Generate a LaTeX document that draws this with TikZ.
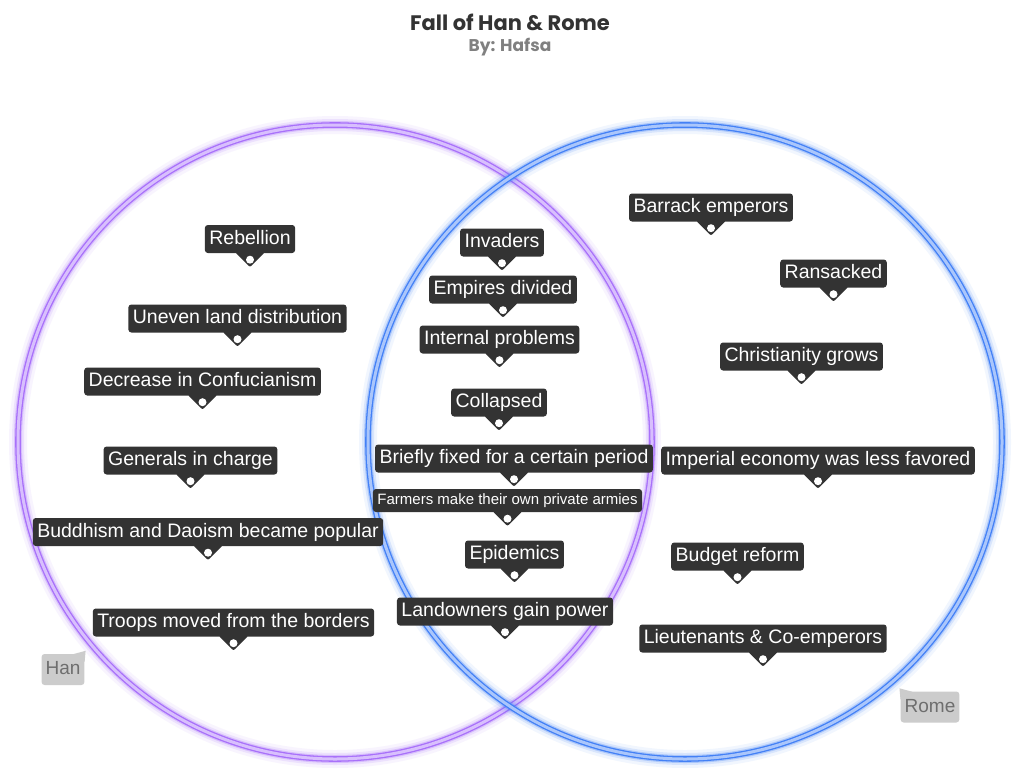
\documentclass[tikz,border=0pt]{standalone}
\usepackage{fontspec}
\setmainfont{Liberation Sans}
\newfontfamily\titlefont{Poppins}
\usetikzlibrary{calc}
\definecolor{hanpurple}{RGB}{168,112,250}
\definecolor{romeblue}{RGB}{66,128,246}
\definecolor{tagdark}{RGB}{51,51,51}
\definecolor{keygray}{RGB}{204,204,204}
\definecolor{keytext}{RGB}{110,110,110}
\tikzset{
  topic/.style={rectangle,rounded corners=3pt,fill=tagdark,text=white,
    inner xsep=4.5pt,inner ysep=0pt,minimum height=28pt,text height=14pt,text depth=4pt,
    font=\fontsize{19.5}{21}\selectfont},
  smalltopic/.style={topic,minimum height=23pt,text height=11pt,text depth=3pt,
    font=\fontsize{15}{17}\selectfont},
  keytag/.style={rectangle,rounded corners=3pt,fill=keygray,text=keytext,
    inner xsep=4pt,inner ysep=0pt,minimum height=31pt,text height=14pt,text depth=4pt,
    font=\fontsize{19}{21}\selectfont},
  ring/.style={draw=#1,line width=1.3pt,double=#1!45,double distance=3pt}
}

\begin{document}
\begin{tikzpicture}[x=1pt,y=-1pt]
  \useasboundingbox[fill=white] (0,0) rectangle (1024,768);

  % Title
  \node[font=\titlefont\fontsize{21}{23}\selectfont\bfseries,text=tagdark] (title) at (510,22) {Fall of Han \& Rome};
  \node[font=\titlefont\fontsize{17}{19}\selectfont\bfseries,text=gray] (author) at (510,47) {By: Hafsa};

  % Circles with glow
  \foreach \cx/\col in {335/hanpurple,685/romeblue}{
    \foreach \w/\op in {18/0.07,12/0.14,8/0.3}{
      \draw[\col,opacity=\op,line width=\w pt] (\cx,442) circle (317);
    }
    \draw[ring=\col] (\cx,442) circle (317);
  }

  % Topics with pins
  \foreach \nm/\x/\y/\txt in {
    rebellion/250/239/Rebellion,
    uneven/237.5/318.5/{Uneven land distribution},
    decrease/202.5/381.5/{Decrease in Confucianism},
    generals/190.5/460.5/{Generals in charge},
    buddhism/208/532/{Buddhism and Daoism became popular},
    troops/233.5/622.5/{Troops moved from the borders},
    invaders/502/242.5/Invaders,
    divided/503/289.5/{Empires divided},
    internal/499.5/339.5/{Internal problems},
    collapsed/499/402.5/Collapsed,
    briefly/514/458.5/{Briefly fixed for a certain period},
    epidemics/514.5/554.5/Epidemics,
    landowners/505/611.5/{Landowners gain power},
    barrack/711/207.5/{Barrack emperors},
    ransacked/833.5/273.5/Ransacked,
    christianity/801.5/356.5/{Christianity grows},
    imperial/818/460.5/{Imperial economy was less favored},
    budget/737.5/556.5/{Budget reform},
    lieutenants/763/638.5/{Lieutenants \& Co-emperors}
  }{
    \node[topic] (\nm) at (\x,\y) {\txt};
    \fill[tagdark,rounded corners=2pt] ($(\nm.south)+(-15,-1)$) -- ($(\nm.south)+(0,14)$) -- ($(\nm.south)+(15,-1)$) -- cycle;
    \fill[white] ($(\nm.south)+(0,6.5)$) circle (4);
  }
  \node[smalltopic] (farmers) at (507.5,500.5) {Farmers make their own private armies};
  \fill[tagdark,rounded corners=2pt] ($(farmers.south)+(-15,-1)$) -- ($(farmers.south)+(0,14)$) -- ($(farmers.south)+(15,-1)$) -- cycle;
  \fill[white] ($(farmers.south)+(0,6.5)$) circle (4);

  % Circle keys
  \node[keytag] (hankey) at (63,669.5) {Han};
  \fill[keygray] ($(hankey.north east)+(-12,0.5)$) -- ($(hankey.north east)+(1,-3)$) -- ($(hankey.north east)+(0,8)$) -- cycle;
  \node[keytag] (romekey) at (930,707) {Rome};
  \fill[keygray] ($(romekey.north west)+(12,0.5)$) -- ($(romekey.north west)+(-1,-3)$) -- ($(romekey.north west)+(0,8)$) -- cycle;
\end{tikzpicture}
\end{document}
